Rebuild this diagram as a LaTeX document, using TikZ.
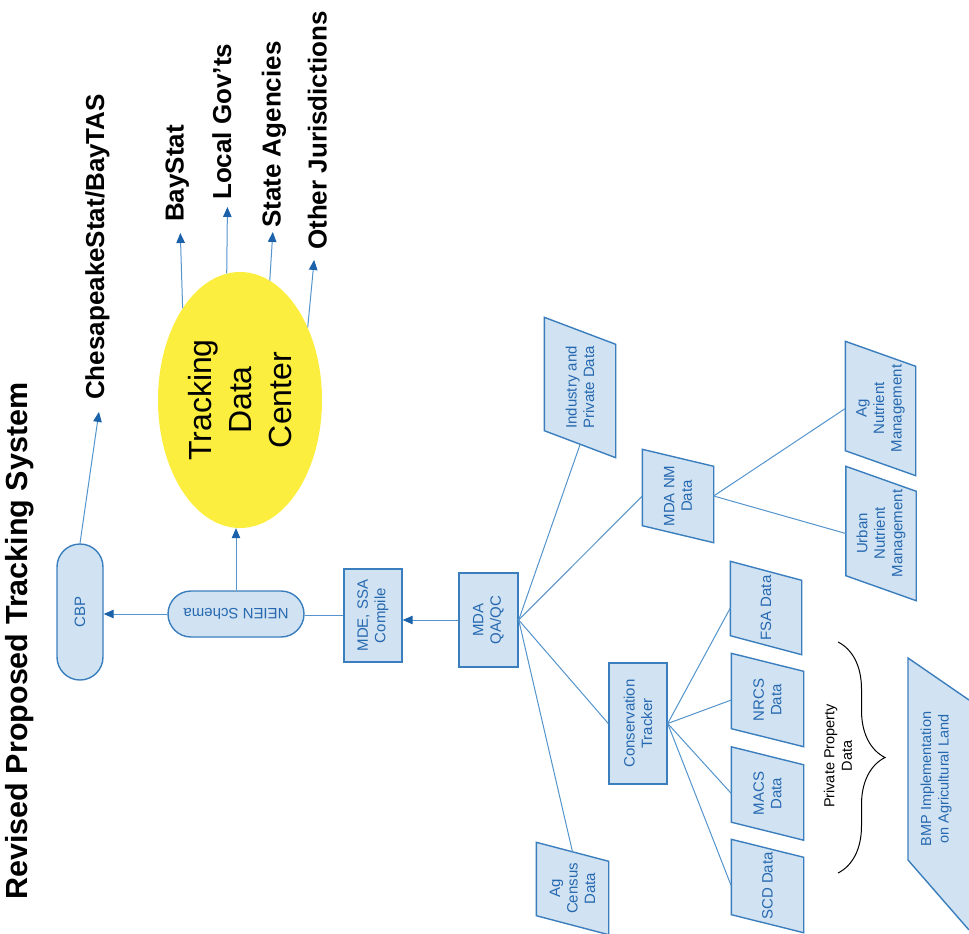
\documentclass[tikz,border=0pt]{standalone}
\usepackage{fontspec}
\setmainfont{Liberation Sans}
\usetikzlibrary{arrows.meta,shapes.geometric,shapes.misc,decorations.pathreplacing,backgrounds}

\definecolor{boxfill}{RGB}{209,227,242}
\definecolor{boxline}{RGB}{58,126,190}
\definecolor{boxtext}{RGB}{38,104,176}
\definecolor{linkc}{RGB}{84,148,204}
\definecolor{tipc}{RGB}{28,98,170}
\definecolor{tdcfill}{RGB}{252,238,62}

\begin{document}
\begin{tikzpicture}[
		x=1pt, y=-1pt,
		base/.style={draw=boxline, fill=boxfill, line width=1.4pt, align=center, text=boxtext,
				font=\fontsize{15}{17.5}\selectfont, inner sep=1pt},
		box/.style={base, rotate=90},
		para/.style={box, draw=none, fill=none},
		paraline/.style={draw=boxline, fill=boxfill, line width=1.4pt},
		pill/.style={base, rounded rectangle, minimum width=138pt, minimum height=46pt},
		ln/.style={draw=linkc, line width=1pt},
		arr/.style={ln, -{Triangle[length=10pt, width=8.5pt, color=tipc]}},
		lab/.style={rotate=90, anchor=west, inner sep=1pt, text height=0.72em, text depth=0pt,
				font=\fontsize{26}{30}\selectfont\bfseries},
		pbrace/.style={decorate, decoration={brace, amplitude=47pt}, draw=black, line width=1pt}
		]
		\useasboundingbox (0,0) rectangle (969,934);
		\node[rotate=90, inner sep=0pt, text height=0.72em, text depth=0pt,
			font=\fontsize{30.5}{34}\selectfont\bfseries] (title) at (24,641) {Revised Proposed Tracking System};

		% reporting chain (rotated nodes: .north is left, .south is right, .east is up)
		\node[pill, rotate=90] (cbp) at (80,612) {CBP};
		\node[pill, rotate=180] (neien) at (236,614) {NEIEN Schema};
		\node[box, minimum width=93pt, minimum height=58pt] (mde) at (373,615.5) {MDE, SSA\\Compile};
		\node[box, minimum width=94pt, minimum height=59pt] (mda) at (488.5,620) {MDA\\QA/QC};
		\node[ellipse, rotate=90, fill=tdcfill, minimum width=256pt, minimum height=164pt, inner sep=0pt,
			align=center, font=\fontsize{32}{40}\selectfont] (tdc) at (240,400) {Tracking\\Data\\Center};

		\node[lab] (chesstat) at (100.5,401) {ChesapeakeStat/BayTAS};
		\node[lab] (baystat) at (180,223) {BayStat};
		\node[lab] (localgov) at (227.5,201) {Local Gov’ts};
		\node[lab] (stateag) at (277,229) {State Agencies};
		\node[lab] (otherjur) at (323,251) {Other Jurisdictions};

		% data sources
		\node[box, minimum width=121pt, minimum height=58pt] (constr) at (638,723.5) {Conservation\\Tracker};
		\node[para, minimum width=139pt, minimum height=70pt] (industry) at (580,387.5) {Industry and\\Private Data};
		\node[para, minimum width=92pt, minimum height=70pt] (mdanm) at (678,496) {MDA NM\\Data};
		\node[para, minimum width=133pt, minimum height=69pt] (agnm) at (880.5,408.5) {Ag\\Nutrient\\Management};
		\node[para, minimum width=133pt, minimum height=69pt] (urbnm) at (881,533.5) {Urban\\Nutrient\\Management};
		\node[para, minimum width=91pt, minimum height=71pt] (agcensus) at (572.5,888.5) {Ag\\Census\\Data};
		\node[para, minimum width=92pt, minimum height=70pt] (fsa) at (766,608) {FSA Data};
		\node[para, minimum width=92pt, minimum height=71pt] (nrcs) at (767.5,700) {NRCS\\Data};
		\node[para, minimum width=92pt, minimum height=71pt] (macs) at (767.5,793.5) {MACS\\Data};
		\node[para, minimum width=92pt, minimum height=71pt] (scd) at (767.5,886) {SCD Data};

		\node[rotate=90, align=center, font=\fontsize{14.5}{17.5}\selectfont] (ppd) at (838,756) {Private Property\\Data};
		\node[rotate=90, align=center, text=boxtext, font=\fontsize{14.5}{17.5}\selectfont] (bmp) at (936,779)
			{BMP Implementation\\on Agricultural Land};
		\coordinate (bt) at (838,642);
		\coordinate (bb) at (838,873);
		\draw[pbrace] (bt) -- (bb);

		\begin{scope}[on background layer]
			\foreach \n/\s in {industry/27, mdanm/17, agnm/25, urbnm/25, agcensus/19, fsa/19, nrcs/18, macs/18, scd/18}
			\draw[paraline] (\n.north east) -- ([yshift=-\s pt]\n.south east) -- (\n.south west)
				-- ([yshift=\s pt]\n.north west) -- cycle;
			\fill[boxfill] (908,658) -- (969,700) -- (969,930) -- (908,860) -- cycle;
			\draw[boxline, line width=1.4pt] (969,700) -- (908,658) -- (908,860) -- (969,930);
		\end{scope}

		\draw[arr] (mda.north) -- (mda.north -| mde.south);
		\draw[ln] (mde.north) -- (mde.north -| neien.west);
		\draw[arr] (neien.east) -- (neien.east -| cbp.south);
		\draw[arr] (neien.south) -- (neien.south |- tdc.west);
		\draw[arr, shorten >=11pt] (cbp.east) -- (chesstat.west);
		\draw[arr, shorten >=10pt] (tdc.32) -- (baystat.west);
		\draw[arr, shorten >=6pt] (tdc.6) -- (localgov.west);
		\draw[arr, shorten >=3pt] (tdc.-14) -- ([xshift=-4pt]stateag.west);
		\draw[arr, shorten >=9pt] (tdc.-43) -- ([xshift=-8pt]otherjur.west);

		\foreach \t in {mdanm, constr}
		\draw[ln] (mda.south) -- (\t.north);
		\draw[ln] (mda.south) -- ([yshift=13pt]industry.west);
		\draw[ln] (mda.south) -- ([yshift=-9.5pt]agcensus.east);
		\foreach \t in {fsa, nrcs, macs, scd}
		\draw[ln] (constr.south) -- (\t.north);
		\foreach \t in {agnm, urbnm}
		\draw[ln] (mdanm.south) -- (\t.north);
	\end{tikzpicture}
\end{document}
